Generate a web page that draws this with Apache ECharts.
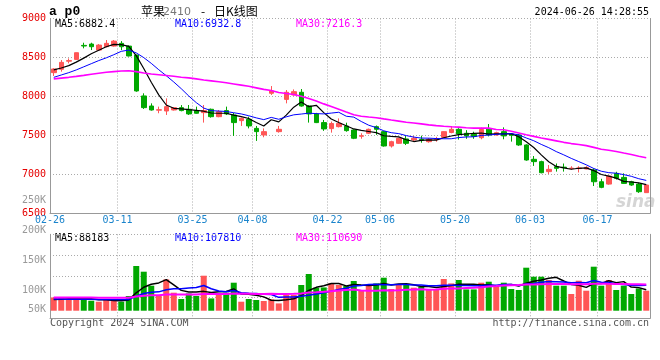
<!DOCTYPE html>
<html><head><meta charset="utf-8">
<script src="https://cdn.jsdelivr.net/npm/echarts@6/dist/echarts.min.js"></script>
<style>html,body{margin:0;padding:0;background:#fff}#c{width:660px;height:360px}</style>
</head><body><div id="c"></div>
<script>
const dates = ['02-28','02-29','03-01','03-04','03-05','03-06','03-07','03-08','03-11','03-12','03-13','03-14','03-15','03-18','03-19','03-20','03-21','03-22','03-25','03-26','03-27','03-28','03-29','04-01','04-02','04-03','04-08','04-09','04-10','04-11','04-12','04-15','04-16','04-17','04-18','04-19','04-22','04-23','04-24','04-25','04-26','04-29','04-30','05-06','05-07','05-08','05-09','05-10','05-13','05-14','05-15','05-16','05-17','05-20','05-21','05-22','05-23','05-24','05-27','05-28','05-29','05-30','05-31','06-03','06-04','06-05','06-06','06-07','06-11','06-12','06-13','06-14','06-17','06-18','06-19','06-20','06-21','06-24','06-25','06-26'];
const opens = [8305,8348,8452,8475,8655,8672,8595,8638,8646,8681,8646,8531,8006,7877,7824,7813,7826,7856,7835,7818,7792,7835,7740,7818,7761,7689,7706,7590,7505,8040,7548,7962,8019,8053,7877,7775,7664,7587,7612,7620,7569,7489,7527,7612,7548,7364,7398,7454,7441,7449,7419,7446,7475,7537,7578,7527,7514,7470,7580,7505,7548,7517,7505,7377,7193,7163,7035,7098,7092,7074,7074,7069,7056,6905,6875,7012,6961,6905,6875,6765];
const closes = [8352,8437,8460,8561,8647,8638,8659,8681,8710,8638,8519,8070,7856,7826,7829,7869,7856,7818,7775,7784,7818,7740,7804,7775,7664,7719,7621,7548,7548,8070,7578,8053,8061,7877,7775,7664,7583,7652,7654,7561,7463,7495,7578,7578,7364,7419,7462,7398,7462,7436,7449,7451,7548,7578,7518,7493,7487,7575,7505,7535,7493,7502,7377,7184,7163,7021,7064,7077,7086,7080,7082,7089,6905,6833,6978,6949,6884,6863,6777,6863];
const lows = [8262,8318,8424,8472,8617,8595,8587,8630,8638,8595,8513,8060,7839,7818,7784,7762,7819,7809,7762,7778,7664,7728,7733,7761,7493,7621,7590,7429,7476,8019,7535,7911,8010,7869,7664,7658,7558,7535,7602,7547,7452,7457,7517,7507,7356,7344,7391,7376,7426,7406,7406,7419,7466,7527,7446,7456,7456,7450,7487,7497,7450,7420,7366,7175,7108,7013,7004,7035,7035,7059,7024,7064,6850,6822,6867,6933,6877,6852,6762,6762];
const highs = [8362,8467,8488,8563,8689,8689,8672,8724,8724,8710,8653,8533,8040,7911,7869,7975,7859,7889,7890,7869,7890,7844,7825,7869,7788,7728,7740,7621,7590,8133,7621,8082,8090,8095,7890,7789,7698,7677,7718,7663,7577,7527,7587,7627,7557,7431,7471,7492,7492,7496,7466,7481,7552,7620,7592,7567,7547,7600,7646,7547,7603,7527,7517,7386,7235,7175,7120,7139,7139,7104,7104,7104,7077,6943,6983,7033,7013,6917,6892,6867];
const volumes = [56100,56800,47700,56100,47700,42200,38000,47700,42200,38000,62000,188600,164600,105500,66300,132100,76000,49400,73000,62000,147700,51900,66300,76000,118200,38000,49400,45200,40900,47700,30800,66300,66300,108500,154900,97100,98300,115200,108500,104200,125300,87400,108500,115200,139300,91600,108500,112700,97100,101300,91600,87400,133800,115200,129600,89900,89900,118200,122400,101300,118200,91600,87400,181500,143500,143500,129600,105500,105500,70500,126600,84400,185700,105500,129600,87400,105500,70500,94100,84400];
const priceMA5Head = [8340,8365,8395,8440];
const priceMA10Head = [8245,8275,8305,8340,8380,8420,8460,8495,8535];
const priceMA30Head = [8225,8235,8245,8257,8270,8285,8298,8310,8318,8326,8330,8318,8300,8288,8278,8268,8258,8247,8238,8225,8210,8200,8188,8175,8160,8145,8130,8110,8090];
const volMA5Head = [47000,48500,50000,51500];
const volMA10Head = [49000,49000,48500,48500,48500,48000,47500,47500,47500];
const volMA30Head = [56000,56000,55800,55800,55600,55400,55000,55000,54800,54500,54800,60000,63500,65000,65500,68000,68500,68000,68500,68500,71000,70500,70500,71000,73000,72000,71500,71000,70500];
const dateTickLabels = ['02-26','03-11','03-25','04-08','04-22','05-06','05-20','06-03','06-17'];
const volTickLabels = ['250K','200K','150K','100K','50K'];
const volTickY = [200.7,230.7,260.7,290,309];
const maTexts = ['MA5:6882.4','MA10:6932.8','MA30:7216.3'];
const volMaTexts = ['MA5:88183','MA10:107810','MA30:110690'];

function movingAvg(values, n, head) {
  return values.map((v, i) => {
    if (i < n - 1) return head[i];
    let s = 0; for (let k = i - n + 1; k <= i; k++) s += values[k];
    return +(s / n).toFixed(1);
  });
}
const RED = '#ff5656', GREEN = '#00a800';
const MONO = 'DejaVu Sans Mono';
const boundLabel = {};
dateTickLabels.forEach((d, k) => { boundLabel[k === 0 ? 0 : dates.indexOf(d) + 1] = d; });
const dotted = {lineStyle: {color: '#aaa', type: [1, 2], width: 1}};

const chart = echarts.init(document.getElementById('c'), null, {renderer: 'canvas'});
const maColors = ['#000000', '#0000ff', '#ff00ff'];
function txt(text, x, y, fill, font, align) {
  return {type: 'text', x: x, y: y, silent: true, style: {text: text, fill: fill, font: font, align: align || 'left', textAlign: align || 'left', verticalAlign: 'middle', textVerticalAlign: 'middle'}};
}
const graphics = [
  txt('a p0', 49, 12, '#000', 'bold 13px "Liberation Mono"'),
  txt('苹果', 141, 11.5, '#000', '12px "Noto Sans CJK SC"'),
  txt('2410', 163, 12, '#777', '11px "DejaVu Sans"'),
  txt('-', 201, 11.5, '#000', '12px "Noto Sans CJK SC"'),
  txt('日K线图', 214, 11.5, '#000', '12px "Noto Sans CJK SC"'),
  txt('2024-06-26 14:28:55', 649, 12.5, '#000', '10px "' + MONO + '"', 'right'),
  txt('Copyright 2024 SINA.COM', 50, 323.5, '#555', '10px "' + MONO + '"'),
  txt('http://finance.sina.com.cn', 649, 323.5, '#555', '10px "' + MONO + '"', 'right'),
  txt('sina', 616, 203, 'rgba(150,150,150,0.4)', 'italic bold 17px "DejaVu Sans"')
];
const maX = [55, 175, 296];
maTexts.forEach((t, k) => graphics.push(txt(t, maX[k], 24.5, maColors[k], '10px "' + MONO + '"')));
volMaTexts.forEach((t, k) => graphics.push(txt(t, maX[k], 238.8, maColors[k], '10px "' + MONO + '"')));
volTickLabels.forEach((t, k) => graphics.push(txt(t, 46, volTickY[k], '#999', '10px "' + MONO + '"', 'right')));

const catAxis = (gi, showLabels) => ({
  type: 'category', gridIndex: gi, data: dates, boundaryGap: true,
  axisLine: {show: true, onZero: false, lineStyle: {color: '#999'}},
  axisTick: {show: false},
  axisLabel: showLabels ? {
    interval: (i) => (i in boundLabel), formatter: (v, i) => boundLabel[i] || '',
    color: '#1a84cc', fontFamily: MONO, fontSize: 10, margin: 2, padding: [0, 7.5, 0, 0]
  } : {show: false},
  splitLine: Object.assign({show: true, interval: (i) => (i in boundLabel) && i > 0}, dotted)
});
const lineS = (name, data, color, width, xi, yi) => ({
  name: name, type: 'line', data: data, xAxisIndex: xi, yAxisIndex: yi, symbol: 'none', showSymbol: false,
  lineStyle: {color: color, width: width}, itemStyle: {color: color}, z: 5, silent: true
});

chart.setOption({
  animation: false,
  backgroundColor: '#fff',
  grid: [
    {left: 50, right: 10, top: 18.5, height: 194.8, outerBoundsMode: 'none'},
    {left: 50, right: 10, top: 234.3, height: 84, outerBoundsMode: 'none'}
  ],
  xAxis: [catAxis(0, true), catAxis(1, false)],
  yAxis: [
    {type: 'value', gridIndex: 0, min: 6500, max: 9000, interval: 500, position: 'left',
     axisLine: {show: true, lineStyle: {color: '#999'}}, axisTick: {show: false},
     axisLabel: {color: '#e60000', fontFamily: MONO, fontSize: 10, margin: 4, padding: [0, 0, 3, 0], formatter: (v) => String(v)},
     splitLine: Object.assign({show: true}, dotted)},
    {type: 'value', gridIndex: 0, min: 6500, max: 9000, position: 'right',
     axisLine: {show: true, lineStyle: {color: '#999'}}, axisTick: {show: false}, axisLabel: {show: false}, splitLine: {show: false}},
    {type: 'value', gridIndex: 1, min: -32000, max: 322400, position: 'left',
     axisLine: {show: true, lineStyle: {color: '#999'}}, axisTick: {show: false}, axisLabel: {show: false}, splitLine: {show: false}},
    {type: 'value', gridIndex: 1, min: 0, max: 4, interval: 1, position: 'right',
     axisLine: {show: true, lineStyle: {color: '#999'}}, axisTick: {show: false}, axisLabel: {show: false},
     splitLine: Object.assign({show: true}, dotted)}
  ],
  series: [
    {type: 'candlestick', xAxisIndex: 0, yAxisIndex: 0, barWidth: 5,
     data: dates.map((d, i) => [opens[i], closes[i], lows[i], highs[i]]),
     itemStyle: {color: RED, color0: GREEN, borderColor: RED, borderColor0: GREEN, borderWidth: 1}, silent: true},
    lineS('MA5', movingAvg(closes, 5, priceMA5Head), maColors[0], 1.2, 0, 0),
    lineS('MA10', movingAvg(closes, 10, priceMA10Head), maColors[1], 1, 0, 0),
    lineS('MA30', movingAvg(closes, 30, priceMA30Head), maColors[2], 1.6, 0, 0),
    {type: 'bar', xAxisIndex: 1, yAxisIndex: 2, barWidth: 6, silent: true,
     data: volumes.map((v, i) => ({value: v, itemStyle: {color: closes[i] >= opens[i] ? RED : GREEN}}))},
    lineS('VMA5', movingAvg(volumes, 5, volMA5Head), maColors[0], 1.5, 1, 2),
    lineS('VMA10', movingAvg(volumes, 10, volMA10Head), maColors[1], 1.5, 1, 2),
    lineS('VMA30', movingAvg(volumes, 30, volMA30Head), maColors[2], 2, 1, 2)
  ],
  graphic: graphics
});
</script></body></html>
